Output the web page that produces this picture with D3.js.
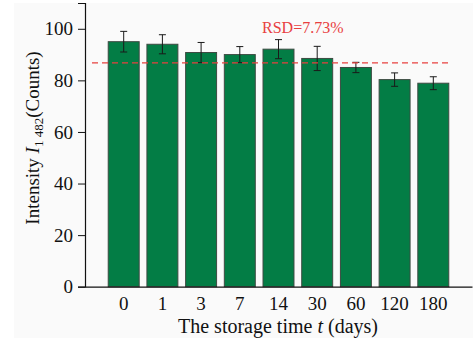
<!DOCTYPE html>
<html lang="en">
<head>
    <meta charset="utf-8">
    <title>Storage time bar chart</title>
    <script src="https://cdn.jsdelivr.net/npm/d3@7"></script>
    <style>
        body { margin: 0; background: #fff; }
        svg { display: block; }
        .tick text { font-family: "Liberation Serif", "DejaVu Serif", serif; }
    </style>
</head>
<body>
    <script type="text/javascript">
        // data
        var days = ['0', '1', '3', '7', '14', '30', '60', '120', '180'];
        var intensity = [95.0, 94.0, 90.8, 90.0, 92.1, 88.5, 85.0, 80.3, 78.9];
        var errors = [4.0, 3.7, 3.9, 3.1, 3.7, 4.7, 2.0, 2.6, 2.5];
        var yTicks = [0, 20, 40, 60, 80, 100];
        var meanLine = 86.8;
        var rsdLabel = 'RSD=7.73%';

        var width = 474, height = 342;
        var plotLeft = 85, plotRight = 472, plotTop = 3, plotBottom = 286.7;

        var svg = d3.select('body')
            .append('svg')
            .attr('width', width)
            .attr('height', height);

        // light panel behind the figure
        svg.append('rect')
            .attr('x', 14).attr('y', 3)
            .attr('width', 459).attr('height', 335)
            .attr('fill', '#fafafa');

        var xScale = d3.scaleBand()
            .domain(days)
            .range([plotLeft, plotRight])
            .paddingInner(0.2)
            .paddingOuter(0.6);

        var yScale = d3.scaleLinear()
            .domain([0, 110])
            .range([plotBottom, plotTop]);

        // bars
        svg.selectAll('rect.bar')
            .data(intensity)
            .enter()
            .append('rect')
            .attr('class', 'bar')
            .attr('x', function (d, i) { return xScale(days[i]); })
            .attr('y', function (d) { return yScale(d); })
            .attr('width', xScale.bandwidth())
            .attr('height', function (d) { return yScale(0) - yScale(d); })
            .attr('fill', '#037d45')
            .attr('stroke', '#3d4a42')
            .attr('stroke-width', 1);

        // error bars
        var eb = svg.append('g')
            .attr('stroke', '#1a1a1a')
            .attr('stroke-width', 1)
            .attr('fill', 'none');
        intensity.forEach(function (d, i) {
            var cx = xScale(days[i]) + xScale.bandwidth() / 2;
            var hi = yScale(d + errors[i]), lo = yScale(d - errors[i]);
            eb.append('line').attr('x1', cx).attr('x2', cx).attr('y1', hi).attr('y2', lo);
            eb.append('line').attr('x1', cx - 3.5).attr('x2', cx + 3.5).attr('y1', hi).attr('y2', hi);
            eb.append('line').attr('x1', cx - 3.5).attr('x2', cx + 3.5).attr('y1', lo).attr('y2', lo);
        });

        // mean dashed line
        svg.append('line')
            .attr('x1', 92).attr('x2', 452)
            .attr('y1', yScale(meanLine)).attr('y2', yScale(meanLine))
            .attr('stroke', '#e8403f')
            .attr('stroke-width', 1.3)
            .attr('stroke-dasharray', '6,4');

        svg.append('text')
            .attr('x', 262)
            .attr('y', 33)
            .attr('fill', '#e8403f')
            .style('font-family', '"Liberation Serif", serif')
            .style('font-size', '16px')
            .text(rsdLabel);

        // axes
        var xAxis = d3.axisBottom(xScale).tickSize(0).tickPadding(10);
        var yAxis = d3.axisLeft(yScale).tickValues(yTicks).tickSize(7).tickPadding(5);

        var gx = svg.append('g')
            .attr('transform', 'translate(0,' + plotBottom + ')')
            .call(xAxis);
        gx.select('.domain').attr('stroke', '#111').attr('stroke-width', 1.2);
        gx.selectAll('.tick text').style('font-size', '19px').attr('fill', '#111');

        var gy = svg.append('g')
            .attr('transform', 'translate(' + plotLeft + ',0)')
            .call(yAxis);
        gy.select('.domain').attr('stroke', '#111').attr('stroke-width', 1.2);
        gy.selectAll('.tick line').attr('stroke', '#111');
        gy.selectAll('.tick text').style('font-size', '19px').attr('fill', '#111');

        // axis titles
        var xt = svg.append('text')
            .attr('x', 278)
            .attr('y', 333)
            .attr('text-anchor', 'middle')
            .attr('fill', '#111')
            .style('font-family', '"Liberation Serif", serif')
            .style('font-size', '20px');
        xt.append('tspan').text('The storage time ');
        xt.append('tspan').style('font-style', 'italic').text('t');
        xt.append('tspan').text(' (days)');

        var yt = svg.append('text')
            .attr('transform', 'translate(39,138) rotate(-90)')
            .attr('text-anchor', 'middle')
            .attr('fill', '#111')
            .style('font-family', '"Liberation Serif", serif')
            .style('font-size', '19px');
        yt.append('tspan').text('Intensity ');
        yt.append('tspan').style('font-style', 'italic').text('I');
        yt.append('tspan').attr('dy', 4).style('font-size', '13px').text('1 482');
        yt.append('tspan').attr('dy', -4).text('(Counts)');
    </script>
</body>
</html>
